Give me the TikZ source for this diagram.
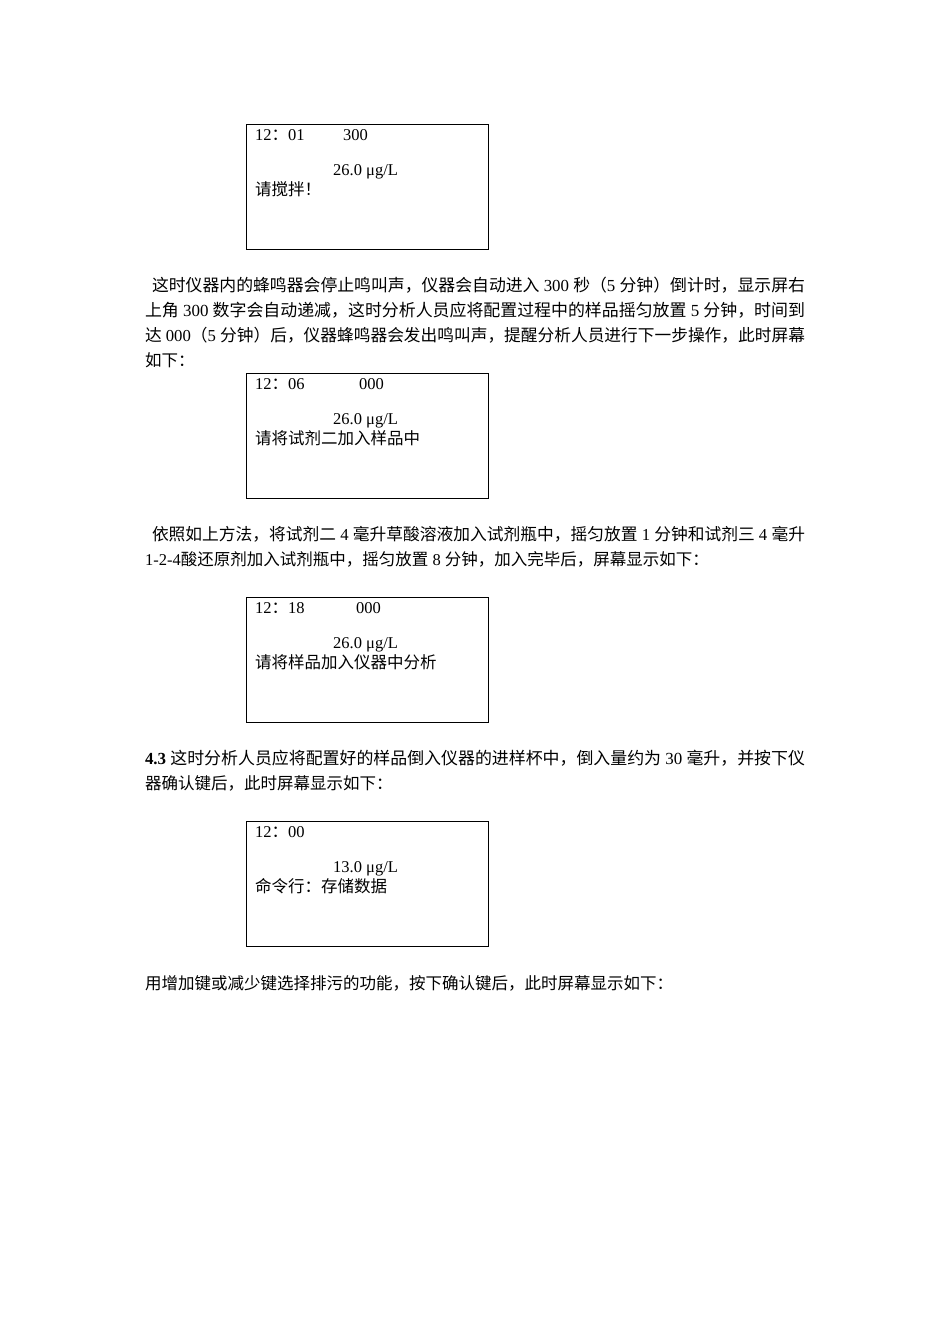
\documentclass[tikz,border=0pt]{standalone}
\usepackage{fontspec}
\setmainfont{Liberation Serif}
\newfontfamily\cjk{Noto Sans CJK SC}
\begin{document}
\begin{tikzpicture}[x=1pt,y=-1pt,
  scr/.style={draw,line width=0.8pt},
  t/.style={anchor=west,inner sep=0pt,font=\fontsize{16.5}{18}\selectfont},
  w/.style={t,anchor=center}]
\useasboundingbox (0,0) rectangle (950,1344);
\fill[white] (0,0) rectangle (950,1344);
% box 1
\draw[scr] (246,124) rectangle (488,249);
\node[t] (a1) at (255,135) {12{\cjk ：}01};
\node[t] (a2) at (343,135) {300};
\node[t] (a3) at (333,172) {26.0 μg/L};
\node[t] (a4) at (255,189) {\cjk 请搅拌！};
% para 1
\node[w] (p1) at (478.5,285) {\resizebox{653pt}{!}{\cjk 这时仪器内的蜂鸣器会停止鸣叫声，仪器会自动进入{\rmfamily\ 300 }秒（{\rmfamily 5 }分钟）倒计时，显示屏右}};
\node[w] (p2) at (475,310) {\resizebox{660pt}{!}{\cjk 上角{\rmfamily\ 300 }数字会自动递减，这时分析人员应将配置过程中的样品摇匀放置{\rmfamily\ 5 }分钟，时间到}};
\node[w] (p3) at (475,335) {\resizebox{660pt}{!}{\cjk 达{\rmfamily\ 000}（{\rmfamily 5 }分钟）后，仪器蜂鸣器会发出鸣叫声，提醒分析人员进行下一步操作，此时屏幕}};
\node[t] (p4) at (145,360) {\cjk 如下：};
% box 2
\draw[scr] (246,373) rectangle (488,498);
\node[t] (b1) at (255,384) {12{\cjk ：}06};
\node[t] (b2) at (359,384) {000};
\node[t] (b3) at (333,421) {26.0 μg/L};
\node[t] (b4) at (255,438) {\cjk 请将试剂二加入样品中};
% para 2
\node[w] (q1) at (478.5,534) {\resizebox{653pt}{!}{\cjk 依照如上方法，将试剂二{\rmfamily\ 4 }毫升草酸溶液加入试剂瓶中，摇匀放置{\rmfamily\ 1 }分钟和试剂三{\rmfamily\ 4 }毫升}};
\node[t] (q2) at (145,559) {1-2-4{\cjk 酸还原剂加入试剂瓶中，摇匀放置}{ 8 }{\cjk 分钟，加入完毕后，屏幕显示如下：}};
% box 3
\draw[scr] (246,597) rectangle (488,722);
\node[t] (c1) at (255,608) {12{\cjk ：}18};
\node[t] (c2) at (356,608) {000};
\node[t] (c3) at (333,645) {26.0 μg/L};
\node[t] (c4) at (255,662) {\cjk 请将样品加入仪器中分析};
% para 3
\node[w] (r1) at (475,758) {\resizebox{660pt}{!}{\textbf{4.3} {\cjk 这时分析人员应将配置好的样品倒入仪器的进样杯中，倒入量约为}{ 30 }{\cjk 毫升，并按下仪}}};
\node[t] (r2) at (145,783) {\cjk 器确认键后，此时屏幕显示如下：};
% box 4
\draw[scr] (246,821) rectangle (488,946);
\node[t] (d1) at (255,832) {12{\cjk ：}00};
\node[t] (d3) at (333,869) {13.0 μg/L};
\node[t] (d4) at (255,886) {\cjk 命令行：存储数据};
% para 4
\node[t] (s1) at (145,983) {\cjk 用增加键或减少键选择排污的功能，按下确认键后，此时屏幕显示如下：};
\end{tikzpicture}
\end{document}
